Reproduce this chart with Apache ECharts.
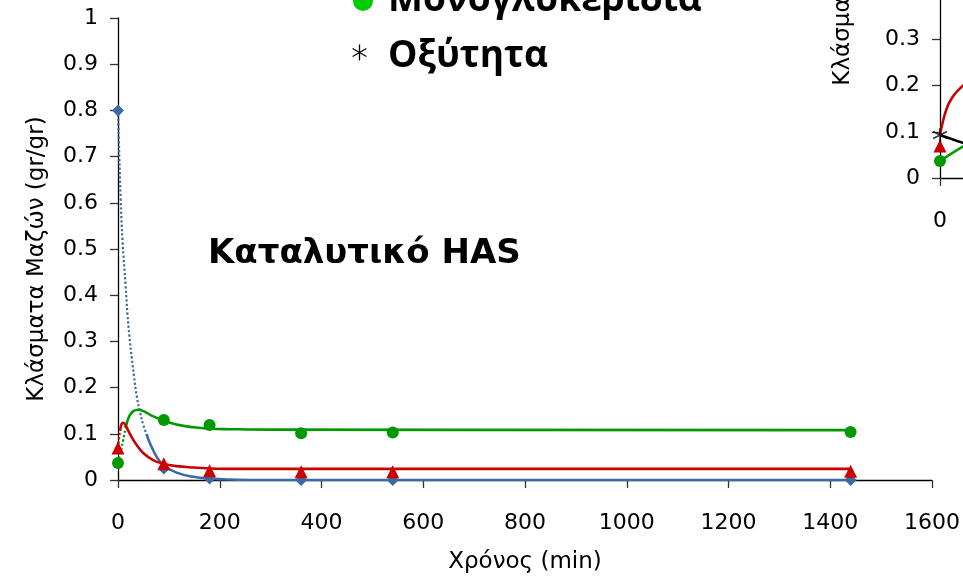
<!DOCTYPE html>
<html>
<head>
<meta charset="utf-8">
<script src="https://cdn.jsdelivr.net/npm/echarts@6/dist/echarts.min.js"></script>
<style>
html,body{margin:0;padding:0;background:#fff;}
#chart{width:963px;height:577px;}
</style>
</head>
<body>
<div id="chart"></div>
<script>
// ---- measured data (main chart) ----
const times = [0, 90, 180, 360, 540, 1440];
const triglycerides = [0.8, 0.025, 0.003, 0.0, 0.0, 0.0];
const monoglycerides = [0.037, 0.130, 0.119, 0.101, 0.103, 0.104];
const diglycerides = [0.069, 0.035, 0.020, 0.018, 0.018, 0.019];

// fitted curves [time, value]
const tgFitSteep = [[0,0.8],[2.6,0.70],[5.2,0.61],[9,0.515],[15,0.42],[18.5,0.36],[22.5,0.31],[27,0.265],[31.5,0.224],[37,0.18],[43,0.148],[50,0.118],[58,0.094]];
const tgFitTail = [[56,0.099],[63,0.079],[76,0.05],[89,0.032],[115,0.016],[148,0.007],[181,0.003],[220,0.001],[270,0],[1440,0]];
const mgFitSteep = [[0,0.037],[5,0.06],[10.4,0.087],[16,0.118]];
const mgFitTail = [[15,0.113],[22,0.138],[30,0.149],[40,0.152],[52,0.148],[65,0.140],[87,0.13],[115,0.12],[148,0.114],[181,0.111],[220,0.11],[300,0.109],[1440,0.108]];
const dgFitSteep = [[0,0.069],[2,0.09],[4.5,0.11]];
const dgFitTail = [[4,0.107],[7,0.121],[10,0.124],[14,0.12],[20,0.107],[30,0.087],[40,0.071],[50,0.058],[69,0.043],[89,0.035],[115,0.030],[148,0.027],[181,0.025],[220,0.024],[300,0.024],[1440,0.024]];

// ---- second (cropped) chart on the right ----
const insetTimes = [0];
const insetAcidity = [0.093];
const insetDiglycerides = [0.069];
const insetMonoglycerides = [0.037];
const insetAcidityFit = [[0,0.093],[45,0.076],[60,0.071]];
const insetDgFit = [[0,0.093],[12,0.147],[25,0.176],[45,0.2],[60,0.212]];
const insetMgFit = [[0,0.037],[45,0.068],[60,0.076]];

const xTicks = {min:0, max:1600, interval:200};
const yTicks = {min:0, max:1, interval:0.1};

const BLUE = '#3a6ba5', RED = '#cc0000', GREEN = '#009900';
const FONT = '"DejaVu Sans", sans-serif';

function pairs(xs, ys){ return xs.map((x,i)=>[x, ys[i]]); }

function axis(extra, margin, gi){
  return Object.assign({
    type:'value', gridIndex:gi,
    axisLine:{show:true, lineStyle:{color:'#000', width:1.3}},
    axisTick:{show:true, length:8, lineStyle:{color:'#333', width:1.3}},
    splitLine:{show:false},
    axisLabel:{color:'#000', fontSize:22, fontFamily:FONT, margin, formatter:(v)=>String(+v.toFixed(2))}
  }, extra);
}

function line(name, data, color, dotted, xi){
  return {type:'line', name, data, xAxisIndex:xi||0, yAxisIndex:xi||0, showSymbol:false, symbol:'none',
    smooth:0.4, silent:true, animation:false,
    lineStyle:{color, width: dotted?2.2:2.6, type: dotted?'dotted':'solid'}};
}
function marks(name, data, color, symbol, size, xi){
  return {type:'scatter', name, data, xAxisIndex:xi||0, yAxisIndex:xi||0, symbol, symbolSize:size,
    itemStyle:{color, opacity:1}, animation:false, z:5};
}

const chart = echarts.init(document.getElementById('chart'), null, {renderer:'canvas'});
chart.setOption({
  backgroundColor:'#fff',
  animation:false,
  grid:[
    {left:118, top:18, width:814, height:462, outerBoundsMode:'none', containLabel:false},
    {left:940, top:-284, width:814, height:462, outerBoundsMode:'none', containLabel:false}
  ],
  xAxis:[ axis(xTicks, 32, 0), axis(xTicks, 32, 1) ],
  yAxis:[ axis(yTicks, 20, 0), axis(yTicks, 20, 1) ],
  series:[
    line('Τριγλυκερίδια fit', tgFitSteep, BLUE, true),
    line('Τριγλυκερίδια fit', tgFitTail, BLUE, false),
    line('Μονογλυκερίδια fit', mgFitSteep, GREEN, true),
    line('Μονογλυκερίδια fit', mgFitTail, GREEN, false),
    line('Διγλυκερίδια fit', dgFitSteep, RED, true),
    line('Διγλυκερίδια fit', dgFitTail, RED, false),
    marks('Τριγλυκερίδια', pairs(times, triglycerides), BLUE, 'diamond', 12),
    marks('Μονογλυκερίδια', pairs(times, monoglycerides), GREEN, 'circle', 12),
    marks('Διγλυκερίδια', pairs(times, diglycerides), RED, 'triangle', 13),
    // inset
    line('Οξύτητα fit', insetAcidityFit, '#000', false, 1),
    line('Διγλυκερίδια fit', insetDgFit, RED, false, 1),
    line('Μονογλυκερίδια fit', insetMgFit, GREEN, false, 1),
    marks('Μονογλυκερίδια', pairs(insetTimes, insetMonoglycerides), GREEN, 'circle', 12, 1),
    marks('Διγλυκερίδια', pairs(insetTimes, insetDiglycerides), RED, 'triangle', 13, 1),
    {type:'scatter', name:'Οξύτητα', data:pairs(insetTimes, insetAcidity), xAxisIndex:1, yAxisIndex:1,
      symbol:'path://M0,-10L0,10M-8.66,-5L8.66,5M-8.66,5L8.66,-5', symbolSize:14,
      itemStyle:{color:'transparent', borderColor:'#000', borderWidth:1.6}, z:6}
  ],
  graphic:[
    {type:'text', x:37, y:259, rotation:Math.PI/2, style:{text:'Κλάσματα Μαζών (gr/gr)', fontSize:23, fontFamily:FONT, fill:'#000', align:'center', verticalAlign:'middle'}},
    {type:'text', x:525, y:562, style:{text:'Χρόνος (min)', fontSize:23, fontFamily:FONT, fill:'#000', align:'center', verticalAlign:'middle'}},
    {type:'text', x:208, y:254, style:{text:'Καταλυτικό HAS', fontSize:34, fontWeight:'bold', fontFamily:FONT, fill:'#000', align:'left', verticalAlign:'middle'}},
    {type:'circle', shape:{cx:363, cy:1, r:10}, style:{fill:'#00cc00'}},
    {type:'text', x:388, y:0, style:{text:'Μονογλυκερίδια', fontSize:37, fontWeight:'bold', fontFamily:'"Open Sans", sans-serif', fill:'#000', align:'left', verticalAlign:'middle'}},
    {type:'line', shape:{x1:359.5, y1:44.5, x2:359.5, y2:60.5}, style:{stroke:'#000', lineWidth:1.3}},
    {type:'line', shape:{x1:352.6, y1:48.5, x2:366.4, y2:56.5}, style:{stroke:'#000', lineWidth:1.3}},
    {type:'line', shape:{x1:352.6, y1:56.5, x2:366.4, y2:48.5}, style:{stroke:'#000', lineWidth:1.3}},
    {type:'text', x:388, y:56, style:{text:'Οξύτητα', fontSize:37, fontWeight:'bold', fontFamily:'"Open Sans", sans-serif', fill:'#000', align:'left', verticalAlign:'middle'}},
    {type:'text', x:843, y:-57, rotation:Math.PI/2, style:{text:'Κλάσματα Μαζών (gr/gr)', fontSize:23, fontFamily:FONT, fill:'#000', align:'center', verticalAlign:'middle'}}
  ]
});
</script>
</body>
</html>
